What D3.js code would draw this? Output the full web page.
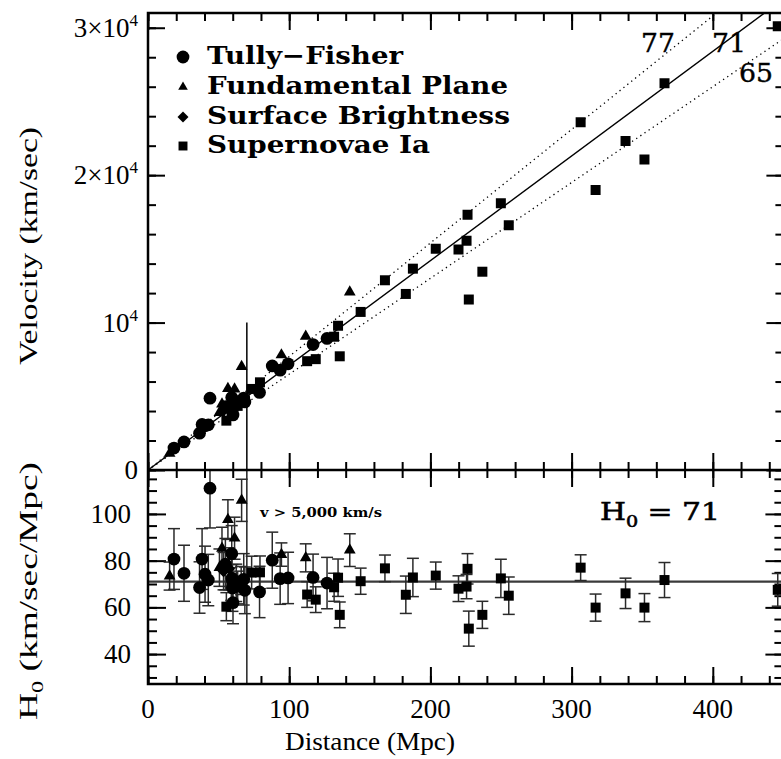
<!DOCTYPE html>
<html>
<head>
<meta charset="utf-8">
<script src="https://cdn.jsdelivr.net/npm/d3@7"></script>
<style>
  body { margin: 0; background: #fff; }
  text { font-family: "Liberation Serif", serif; fill: #000; }
</style>
</head>
<body>
<script>
/* ---------------------------- */
/* DATA                         */
/* ---------------------------- */

// Tully-Fisher clusters: distance (Mpc), velocity (km/s), H0, H0 error
const tfDist = [18.4, 25.5, 36.5, 38.3, 40.4, 42.7, 43.9, 54.8, 59.3, 59.5, 60.2, 59.8, 67.8, 68.6, 79.0, 88.0, 93.6, 99.2, 116.9, 126.8];
const tfVel  = [1485, 1902, 2500, 3091, 2998, 3062, 4873, 4302, 4922, 4314, 3732, 4084, 4882, 4617, 5261, 7058, 6767, 7202, 8510, 8927];
const tfH0   = [80.7, 74.6, 68.5, 80.7, 74.2, 71.7, 111.0, 78.5, 83.0, 72.5, 62.0, 68.3, 72.0, 67.3, 66.6, 80.2, 72.3, 72.6, 72.8, 70.4];
const tfErr  = [13, 12, 11, 13, 12, 11, 17, 11, 12, 10, 9, 10, 11, 10, 11, 12, 11, 11, 10, 11];

// Fundamental Plane clusters
const fpDist = [15.3, 50.6, 52.4, 56.6, 61.3, 66.3, 94.5, 111.7, 142.9];
const fpVel  = [1123, 3896, 4470, 5524, 5492, 7015, 7806, 9070, 12075];
const fpH0   = [73.4, 77.0, 85.3, 97.6, 89.6, 105.8, 82.6, 81.2, 84.5];
const fpErr  = [6, 8, 9, 8.5, 9, 9, 5, 6, 7];

// Surface Brightness Fluctuation galaxies
const sbDist = [53.5, 57.5, 62.5];
const sbVel  = [4039, 4399, 4406];
const sbH0   = [75.5, 76.5, 70.5];
const sbErr  = [8, 9, 8];

// Type Ia supernovae
const snDist = [55.5, 59.0, 63.5, 66.0, 73.4, 79.3, 112.7, 118.8, 131.8, 134.6, 135.8, 150.6, 167.8, 182.6, 187.6, 203.8, 219.9, 225.6, 226.3, 227.2, 236.8, 249.9, 255.5, 306.4, 317.0, 338.2, 351.6, 365.8, 446.0];
const snVel  = [3347, 4130, 4350, 4719, 5498, 5948, 7382, 7520, 9041, 9785, 7713, 10723, 12870, 11942, 13657, 15000, 14953, 15544, 17312, 11564, 13450, 18093, 16608, 23593, 18988, 22321, 21061, 26228, 30105];
const snH0   = [60.3, 70.0, 68.5, 71.5, 74.9, 75.0, 65.5, 63.3, 68.6, 72.7, 56.8, 71.2, 76.7, 65.4, 72.8, 73.6, 68.0, 68.9, 76.5, 50.9, 56.8, 72.4, 65.0, 77.0, 59.9, 66.0, 59.9, 71.7, 67.5];
const snErr  = [6, 7, 7, 6, 7, 7, 5.5, 5.5, 6, 8, 5.5, 5.6, 5.7, 8, 8.2, 5.8, 5.5, 5.2, 6.5, 7.5, 5.8, 8.2, 8, 5.5, 5.8, 6.5, 6, 7.5, 7];

// Hubble lines and labels
const hubbleSlopes = [77, 71, 65];
const hubbleLabels = ["77", "71", "65"];
const h0Mean = 71;
const cutDist = 70; // v > 5,000 km/s marker

// Tick values
const xMajor = [0, 100, 200, 300, 400];
const xMinor = d3.range(0, 451, 20);
const vMajor = [0, 10000, 20000, 30000];
const vMinor = d3.range(0, 31001, 2000);
const hMajor = [40, 60, 80, 100];
const hMinor = d3.range(30, 119, 5);

const legendNames = ["Tully\u2212Fisher", "Fundamental Plane", "Surface Brightness", "Supernovae Ia"];

/* ---------------------------- */
/* LAYOUT                       */
/* ---------------------------- */

const w = 781, h = 759;
const frame = {left: 148, right: 783.4, top: 13, mid: 470, bottom: 684};

let svg = d3.select("body").append("svg")
    .attr("width", w)
    .attr("height", h);

const x = d3.scaleLinear().domain([0, 450]).range([frame.left, frame.right]);
const yV = d3.scaleLinear().domain([0, 31000]).range([frame.mid, frame.top]);
const yH = d3.scaleLinear().domain([27.2, 118.8]).range([frame.bottom, frame.mid]);

// square turned 45 degrees (d3's own diamond is too narrow)
const symbolRhomb = {
    draw(ctx, size) {
        const r = Math.sqrt(size / 2);
        ctx.moveTo(0, -r);
        ctx.lineTo(r, 0);
        ctx.lineTo(0, r);
        ctx.lineTo(-r, 0);
        ctx.closePath();
    }
};

// Marker shapes for each method
const methods = [
    {name: legendNames[0], shape: d3.symbolCircle,   size: 128, lsize: 128, dist: tfDist, vel: tfVel, h0: tfH0, err: tfErr},
    {name: legendNames[1], shape: d3.symbolTriangle, size: 60,  lsize: 40,  dist: fpDist, vel: fpVel, h0: fpH0, err: fpErr},
    {name: legendNames[2], shape: symbolRhomb,       size: 72,  lsize: 60,  dist: sbDist, vel: sbVel, h0: sbH0, err: sbErr},
    {name: legendNames[3], shape: d3.symbolSquare,   size: 100, lsize: 80,  dist: snDist, vel: snVel, h0: snH0, err: snErr}
];
methods.forEach(m => {
    m.points = m.dist.map((d, i) => ({d: d, v: m.vel[i], h: m.h0[i], e: m.err[i]}));
});

// Clip paths for the two panels
let defs = svg.append("defs");
defs.append("clipPath").attr("id", "clipTop").append("rect")
    .attr("x", frame.left).attr("y", frame.top)
    .attr("width", frame.right - frame.left).attr("height", frame.mid - frame.top);
defs.append("clipPath").attr("id", "clipBot").append("rect")
    .attr("x", frame.left).attr("y", frame.mid)
    .attr("width", frame.right - frame.left).attr("height", frame.bottom - frame.mid);

/* ---------------------------- */
/* TICKS                        */
/* ---------------------------- */

function ticks(axisFn, scale, values, size, tx, ty) {
    let g = svg.append("g")
        .attr("transform", "translate(" + tx + "," + ty + ")")
        .call(axisFn(scale).tickValues(values).tickSize(-size).tickFormat(""));
    g.select(".domain").remove();
    g.selectAll("line").attr("stroke", "#000").attr("stroke-width", 2);
}

const majorLen = 17, minorLen = 8;
// top panel
ticks(d3.axisTop, x, xMinor, minorLen, 0, frame.top);
ticks(d3.axisTop, x, xMajor, majorLen, 0, frame.top);
ticks(d3.axisBottom, x, xMinor, minorLen, 0, frame.mid);
ticks(d3.axisBottom, x, xMajor, majorLen, 0, frame.mid);
ticks(d3.axisLeft, yV, vMinor, minorLen, frame.left, 0);
ticks(d3.axisLeft, yV, vMajor, majorLen, frame.left, 0);
ticks(d3.axisRight, yV, vMinor, minorLen, frame.right, 0);
ticks(d3.axisRight, yV, vMajor, majorLen, frame.right, 0);
// bottom panel
ticks(d3.axisTop, x, xMinor, minorLen, 0, frame.mid);
ticks(d3.axisTop, x, xMajor, majorLen, 0, frame.mid);
ticks(d3.axisBottom, x, xMinor, minorLen, 0, frame.bottom);
ticks(d3.axisBottom, x, xMajor, majorLen, 0, frame.bottom);
ticks(d3.axisLeft, yH, hMinor, minorLen + 1, frame.left, 0);
ticks(d3.axisLeft, yH, hMajor, majorLen + 1, frame.left, 0);
ticks(d3.axisRight, yH, hMinor, minorLen + 1, frame.right, 0);
ticks(d3.axisRight, yH, hMajor, majorLen + 1, frame.right, 0);

/* ---------------------------- */
/* TOP PANEL: VELOCITY          */
/* ---------------------------- */

let topPanel = svg.append("g").attr("clip-path", "url(#clipTop)");

// Hubble law lines
topPanel.selectAll("line.hubble")
    .data(hubbleSlopes)
    .enter()
    .append("line")
        .attr("x1", x(0)).attr("y1", yV(0))
        .attr("x2", x(450)).attr("y2", (s) => yV(s * 450))
        .attr("stroke", "#000")
        .attr("stroke-width", (s) => s === h0Mean ? 1.4 : 1.3)
        .attr("stroke-dasharray", (s) => s === h0Mean ? null : "1.3,3.7");

// v = 5000 km/s divider
topPanel.append("line")
    .attr("x1", x(cutDist)).attr("x2", x(cutDist))
    .attr("y1", yV(0)).attr("y2", yV(10000))
    .attr("stroke", "#000").attr("stroke-width", 1.5);

methods.forEach(m => {
    topPanel.selectAll(null)
        .data(m.points)
        .enter()
        .append("path")
            .attr("d", d3.symbol().type(m.shape).size(m.size))
            .attr("transform", (d) => "translate(" + x(d.d) + "," + yV(d.v) + ")")
            .attr("fill", "#000");
});

/* ---------------------------- */
/* BOTTOM PANEL: H0             */
/* ---------------------------- */

let botPanel = svg.append("g").attr("clip-path", "url(#clipBot)");

botPanel.append("line")
    .attr("x1", x(0)).attr("x2", x(450))
    .attr("y1", yH(h0Mean)).attr("y2", yH(h0Mean))
    .attr("stroke", "#3a3a3a").attr("stroke-width", 2.2);

botPanel.append("line")
    .attr("x1", x(cutDist)).attr("x2", x(cutDist))
    .attr("y1", frame.mid).attr("y2", frame.bottom)
    .attr("stroke", "#222").attr("stroke-width", 1.5);

const cap = 6;
methods.forEach(m => {
    let eb = botPanel.selectAll(null)
        .data(m.points)
        .enter()
        .append("g")
            .attr("stroke", "#2a2a2a")
            .attr("stroke-width", 1.5);
    eb.append("line")
        .attr("x1", (d) => x(d.d)).attr("x2", (d) => x(d.d))
        .attr("y1", (d) => yH(d.h - d.e)).attr("y2", (d) => yH(d.h + d.e));
    eb.append("line")
        .attr("x1", (d) => x(d.d) - cap).attr("x2", (d) => x(d.d) + cap)
        .attr("y1", (d) => yH(d.h - d.e)).attr("y2", (d) => yH(d.h - d.e));
    eb.append("line")
        .attr("x1", (d) => x(d.d) - cap).attr("x2", (d) => x(d.d) + cap)
        .attr("y1", (d) => yH(d.h + d.e)).attr("y2", (d) => yH(d.h + d.e));
});
methods.forEach(m => {
    botPanel.selectAll(null)
        .data(m.points)
        .enter()
        .append("path")
            .attr("d", d3.symbol().type(m.shape).size(m.size))
            .attr("transform", (d) => "translate(" + x(d.d) + "," + yH(d.h) + ")")
            .attr("fill", "#000");
});

/* ---------------------------- */
/* FRAMES                       */
/* ---------------------------- */

svg.append("rect")
    .attr("x", frame.left).attr("y", frame.top)
    .attr("width", frame.right - frame.left).attr("height", frame.bottom - frame.top)
    .attr("fill", "none").attr("stroke", "#000").attr("stroke-width", 2.5);
svg.append("line")
    .attr("x1", frame.left).attr("x2", frame.right)
    .attr("y1", frame.mid).attr("y2", frame.mid)
    .attr("stroke", "#000").attr("stroke-width", 2.5);

/* ---------------------------- */
/* LABELS                       */
/* ---------------------------- */

const numFont = 27;

// x tick labels
svg.selectAll("text.xlab")
    .data(xMajor)
    .enter()
    .append("text")
        .attr("x", (d) => x(d))
        .attr("y", 718)
        .attr("text-anchor", "middle")
        .style("font-size", numFont + "px")
        .text((d) => d);

// velocity tick labels (k x 10^4)
let vl = svg.selectAll("text.vlab")
    .data(vMajor)
    .enter()
    .append("text")
        .attr("x", 138)
        .attr("y", (d) => yV(d) + 9)
        .attr("text-anchor", "end")
        .style("font-size", numFont + "px");
vl.append("tspan").text((d) => d === 0 ? "0" : (d === 10000 ? "10" : (d / 10000) + "\u00d710"));
vl.filter((d) => d > 0).append("tspan")
    .attr("dy", -11)
    .style("font-size", "17px")
    .text("4");

// H0 tick labels
svg.selectAll("text.hlab")
    .data(hMajor)
    .enter()
    .append("text")
        .attr("x", 131)
        .attr("y", (d) => yH(d) + 9)
        .attr("text-anchor", "end")
        .style("font-size", numFont + "px")
        .text((d) => d);

// axis titles
svg.append("text")
    .attr("transform", "translate(37,246) rotate(-90)")
    .attr("text-anchor", "middle")
    .attr("textLength", 238)
    .attr("lengthAdjust", "spacingAndGlyphs")
    .style("font-size", "26px")
    .text("Velocity (km/sec)");

let hTitle = svg.append("text")
    .attr("transform", "translate(37,591) rotate(-90)")
    .attr("text-anchor", "middle")
    .attr("textLength", 258)
    .attr("lengthAdjust", "spacingAndGlyphs")
    .style("font-size", "26px");
hTitle.append("tspan").text("H");
hTitle.append("tspan").attr("dy", 6).style("font-size", "17px").text("0");
hTitle.append("tspan").attr("dy", -6).text(" (km/sec/Mpc)");

svg.append("text")
    .attr("x", 370)
    .attr("y", 750)
    .attr("text-anchor", "middle")
    .attr("textLength", 170)
    .attr("lengthAdjust", "spacingAndGlyphs")
    .style("font-size", "26px")
    .text("Distance (Mpc)");

// legend
const legendY = [57, 87, 117, 146];
const legendBase = [64, 93.5, 123.5, 152.5];
const legendLen = [196, 301, 303, 223];
methods.forEach((m, i) => {
    svg.append("path")
        .attr("d", d3.symbol().type(m.shape).size(m.lsize))
        .attr("transform", "translate(183," + legendY[i] + ")")
        .attr("fill", "#000");
    svg.append("text")
        .attr("x", 207)
        .attr("y", legendBase[i])
        .attr("textLength", legendLen[i])
        .attr("lengthAdjust", "spacingAndGlyphs")
        .style("font-family", "'DejaVu Serif', serif")
        .style("font-weight", "bold")
        .style("font-size", "25px")
        .text(m.name);
});

// Hubble line labels
const lineLabelPos = [[641, 52], [712, 52], [739, 82]];
svg.selectAll("text.hl")
    .data(hubbleLabels)
    .enter()
    .append("text")
        .attr("x", (d, i) => lineLabelPos[i][0])
        .attr("y", (d, i) => lineLabelPos[i][1])
        .attr("textLength", 34)
        .attr("lengthAdjust", "spacingAndGlyphs")
        .style("font-family", "'DejaVu Serif', serif")
        .style("font-size", "26px")
        .style("stroke", "#000")
        .style("stroke-width", 0.4)
        .text((d) => d);

// H0 = 71 annotation
let hAnn = svg.append("text")
    .attr("x", 600)
    .attr("y", 520)
    .attr("textLength", 120)
    .attr("lengthAdjust", "spacingAndGlyphs")
    .style("font-family", "'DejaVu Serif', serif")
    .style("font-size", "25px")
    .style("stroke", "#000")
    .style("stroke-width", 0.6);
hAnn.append("tspan").text("H");
hAnn.append("tspan").attr("dy", 7).style("font-size", "16px").text("0");
hAnn.append("tspan").attr("dy", -7).text("  =  " + h0Mean);

svg.append("text")
    .attr("x", 260)
    .attr("y", 517)
    .attr("textLength", 122)
    .attr("lengthAdjust", "spacingAndGlyphs")
    .style("font-family", "'DejaVu Serif', serif")
    .style("font-weight", "bold")
    .style("font-size", "13px")
    .text("v > 5,000 km/s");
</script>
</body>
</html>
